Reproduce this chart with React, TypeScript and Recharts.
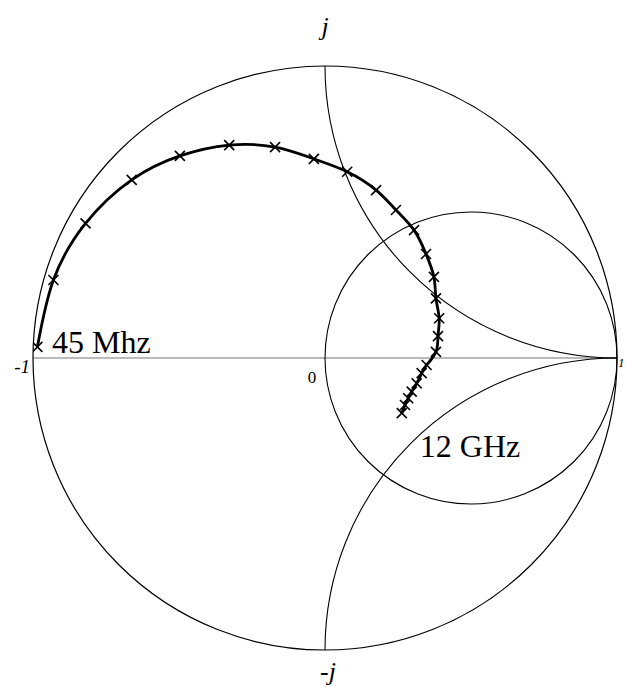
import React from 'react';
import { ScatterChart, Scatter, XAxis, YAxis, ReferenceDot, ReferenceLine } from 'recharts';

// reflection coefficient, 45 MHz -> 12 GHz
const gammaRe = [
  -0.985, -0.93, -0.82, -0.662, -0.497, -0.328, -0.171, -0.038, 0.076, 0.175,
  0.243, 0.305, 0.346, 0.373, 0.38, 0.391, 0.387, 0.38, 0.348, 0.331,
  0.314, 0.297, 0.285, 0.274, 0.263,
];
const gammaIm = [
  0.038, 0.267, 0.461, 0.61, 0.692, 0.729, 0.722, 0.682, 0.638, 0.575,
  0.507, 0.438, 0.356, 0.278, 0.204, 0.136, 0.075, 0.021, -0.024, -0.052,
  -0.087, -0.115, -0.138, -0.161, -0.189,
];
const freqStart = '45 Mhz';
const freqEnd = '12 GHz';

const W = 626;
const H = 687;
const MARGIN = { top: 66, right: 9, bottom: 37, left: 33 };
const R = (W - MARGIN.left - MARGIN.right) / 2; // px per unit of |gamma|
const SERIF = '"Liberation Serif", "Times New Roman", serif';

const points = gammaRe.map((x, i) => ({ x, y: gammaIm[i] }));

const Cross = (props: any) => {
  const { cx, cy } = props;
  const s = 5;
  return (
    <g stroke="#000" strokeWidth={1.6}>
      <line x1={cx - s} y1={cy - s} x2={cx + s} y2={cy + s} />
      <line x1={cx - s} y1={cy + s} x2={cx + s} y2={cy - s} />
    </g>
  );
};

const unitCircle = (props: any) => (
  <g>
    <defs>
      <clipPath id="unitClip">
        <circle cx={props.cx} cy={props.cy} r={R} />
      </clipPath>
    </defs>
    <circle cx={props.cx} cy={props.cy} r={R} fill="none" stroke="#000" strokeWidth={1.2} />
  </g>
);

const ring = (radius: number, clip: boolean) => (props: any) => (
  <circle
    cx={props.cx}
    cy={props.cy}
    r={radius * R}
    fill="none"
    stroke="#000"
    strokeWidth={1.1}
    clipPath={clip ? 'url(#unitClip)' : undefined}
  />
);

const label = (text: string, dx: number, dy: number, size: number, anchor: string, italic = false) =>
  (props: any) => (
    <text
      x={props.cx + dx}
      y={props.cy + dy}
      fontSize={size}
      fontFamily={SERIF}
      fontStyle={italic ? 'italic' : 'normal'}
      textAnchor={anchor}
      fill="#000"
    >
      {text}
    </text>
  );

export default function App() {
  return (
    <div style={{ position: 'absolute', left: 0, top: 0, width: W, height: H, background: '#fff' }}>
      <ScatterChart width={W} height={H} margin={MARGIN}>
        <XAxis type="number" dataKey="x" domain={[-1, 1]} allowDataOverflow hide />
        <YAxis type="number" dataKey="y" domain={[-1, 1]} allowDataOverflow hide />

        <ReferenceDot x={0} y={0} r={0} ifOverflow="visible" shape={unitCircle} />
        <ReferenceLine y={0} stroke="#777" strokeWidth={1.2} ifOverflow="visible" />
        <ReferenceDot x={0.5} y={0} r={0} ifOverflow="visible" shape={ring(0.5, false)} />
        <ReferenceDot x={1} y={1} r={0} ifOverflow="visible" shape={ring(1, true)} />
        <ReferenceDot x={1} y={-1} r={0} ifOverflow="visible" shape={ring(1, true)} />

        <ReferenceDot x={0} y={1} r={0} ifOverflow="visible" shape={label('j', 0, -31, 26, 'middle', true)} />
        <ReferenceDot x={0} y={-1} r={0} ifOverflow="visible" shape={label('-j', 3, 30, 26, 'middle', true)} />
        <ReferenceDot x={-1} y={0} r={0} ifOverflow="visible" shape={label('-1', -3, 15, 19, 'end', true)} />
        <ReferenceDot x={0} y={0} r={0} ifOverflow="visible" shape={label('0', -13, 25, 17, 'middle')} />
        <ReferenceDot x={1} y={0} r={0} ifOverflow="visible" shape={label('1', 1, 9, 13, 'start', true)} />
        <ReferenceDot x={-1} y={0} r={0} ifOverflow="visible" shape={label(freqStart, 19, -5, 32, 'start')} />
        <ReferenceDot
          x={gammaRe[gammaRe.length - 1]}
          y={gammaIm[gammaIm.length - 1]}
          r={0}
          ifOverflow="visible"
          shape={label(freqEnd, 18, 44, 32, 'start')}
        />

        <Scatter
          data={points}
          line={{ stroke: '#000', strokeWidth: 2.8 }}
          lineJointType="natural"
          shape={Cross}
          isAnimationActive={false}
        />
      </ScatterChart>
    </div>
  );
}
